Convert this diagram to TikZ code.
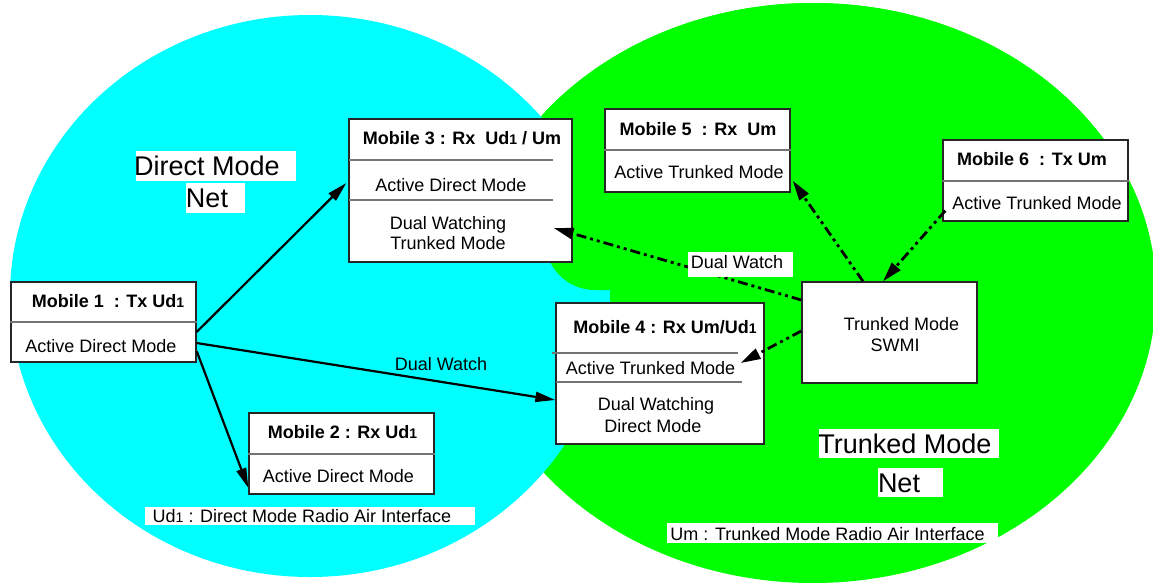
\documentclass[tikz,border=0pt]{standalone}
\usepackage{fontspec}
\setmainfont{Liberation Sans}
\usetikzlibrary{arrows.meta,calc}
\definecolor{cy}{RGB}{0,255,255}
\definecolor{gr}{RGB}{0,255,0}
\newcommand\sone{{\fontsize{14}{14}\selectfont 1}}
\begin{document}
\begin{tikzpicture}[x=1pt,y=-1pt,
  box/.style={draw=black!85, line width=1.3pt, fill=white, inner sep=0pt},
  txt/.style={anchor=base, inner sep=0pt, font=\fontsize{18}{21}\selectfont},
  ttl/.style={anchor=base, inner sep=0pt, font=\fontsize{18}{21}\selectfont\bfseries},
  big/.style={anchor=base, inner sep=0pt, font=\fontsize{27}{30}\selectfont},
  div/.style={draw=black!55, line width=1.3pt},
  arr/.style={line width=2.2pt, -{Triangle[length=20pt,width=10pt]}},
  dd/.style={line width=2.8pt, -{Triangle[length=20pt,width=11pt]}, dash pattern=on 10pt off 4pt on 3pt off 4pt on 3pt off 4pt},
]
\useasboundingbox (0,0) rectangle (1153,582);
% nets
\fill[gr] (813,293) ellipse [x radius=343pt, y radius=290pt];
\fill[cy] (310,296) ellipse [x radius=300pt, y radius=281pt];
\begin{scope}
\clip[rounded corners=50pt] (545,-10) rectangle (1200,290);
\fill[gr] (813,293) ellipse [x radius=343pt, y radius=290pt];
\end{scope}
% net labels
\fill[white] (136,151) rectangle (296,181);
\node[big] (dmn1) at (207,175) {Direct Mode};
\fill[white] (186,183) rectangle (245,213);
\node[big] (dmn2) at (207,207) {Net};
\fill[white] (819,429) rectangle (999,458);
\node[big] (tmn1) at (905,453) {Trunked Mode};
\fill[white] (878,468) rectangle (943,497);
\node[big] (tmn2) at (899,492) {Net};
\fill[white] (667,523) rectangle (998,543);
\node[txt] (um) at (827.5,540) {Um : Trunked Mode Radio Air Interface};
\fill[white] (145,507) rectangle (475,525);
\node[txt] (ud) at (302,522) {Ud\sone\ : Direct Mode Radio Air Interface};
% boxes
\node[box, minimum width=185pt, minimum height=80pt] (m1) at (103.5,322) {};
\draw[div] (m1.west) -- (m1.east);
\node[ttl] (m1t) at (108,307) {Mobile 1\ \ : Tx Ud\sone};
\node[txt] (m1a) at (101,352) {Active Direct Mode};

\node[box, minimum width=223pt, minimum height=143pt] (m3) at (460.5,190.5) {};
\draw[div] (349,160) -- (553,160);
\draw[div] (349,200) -- (553,200);
\node[ttl] (m3t) at (462,144) {Mobile 3 : Rx\ \ Ud\sone\ / Um};
\node[txt] (m3a) at (451,191.5) {Active Direct Mode};
\node[txt] (m3b) at (448,229) {Dual Watching};
\node[txt] (m3c) at (448,249.5) {Trunked Mode};

\node[box, minimum width=185pt, minimum height=83pt] (m5) at (697.5,150.5) {};
\draw[div] (m5.west |- 0,150) -- (m5.east |- 0,150);
\node[ttl] (m5t) at (698,135) {Mobile 5\ \ : Rx\ \ Um};
\node[txt] (m5a) at (699,178.5) {Active Trunked Mode};

\node[box, minimum width=185pt, minimum height=81pt] (m6) at (1035.5,180.5) {};
\draw[div] (m6.west |- 0,181) -- (m6.east |- 0,181);
\node[ttl] (m6t) at (1032,165) {Mobile 6\ \ : Tx Um};
\node[txt] (m6a) at (1037,209) {Active Trunked Mode};

\node[box, minimum width=208pt, minimum height=141pt] (m4) at (660,373.5) {};
\draw[div] (552,353) -- (738,353);
\draw[div] (556,382) -- (742,382);
\node[ttl] (m4t) at (665,333.5) {Mobile 4 : Rx Um/Ud\sone};
\node[txt] (m4a) at (650.5,374) {Active Trunked Mode};
\node[txt] (m4b) at (656,410.5) {Dual Watching};
\node[txt] (m4c) at (653,432.5) {Direct Mode};

\node[box, minimum width=175pt, minimum height=101pt] (sw) at (889.5,332.5) {};
\node[txt] (swa) at (901.5,330) {Trunked Mode};
\node[txt] (swb) at (895,351.5) {SWMI};

\node[box, minimum width=185pt, minimum height=81pt] (m2) at (341.5,453.5) {};
\draw[div] (m2.west |- 0,454) -- (m2.east |- 0,454);
\node[ttl] (m2t) at (342.5,438.5) {Mobile 2 : Rx Ud\sone};
\node[txt] (m2a) at (338.5,482) {Active Direct Mode};
% connectors
\draw[arr] ([yshift=-10pt]m1.east) -- ([xshift=-2pt,yshift=7.5pt]m3.west);
\draw[arr] ([yshift=-21pt]m1.east) -- ([yshift=-26.5pt]m4.west);
\draw[arr] ([yshift=-29pt]m1.east) -- ([yshift=-34.5pt]m2.west);
\draw[dd] ([yshift=32.5pt]sw.west) -- ([xshift=-19pt,yshift=-37.5pt]m3.east);
\draw[dd] ([yshift=1.5pt]sw.west) -- ([xshift=-24pt,yshift=10.5pt]m4.east);
\draw[dd] ([xshift=-26.5pt]sw.north) -- ([xshift=2pt,yshift=12pt]m5.south east);
\draw[dd] ([xshift=3pt,yshift=11pt]m6.south west) -- ([xshift=-6.5pt]sw.north);
% link labels
\fill[white] (688,252) rectangle (793,277);
\node[txt] (dw1) at (737,268) {Dual Watch};
\node[txt] (dw2) at (441,370) {Dual Watch};
\end{tikzpicture}
\end{document}
